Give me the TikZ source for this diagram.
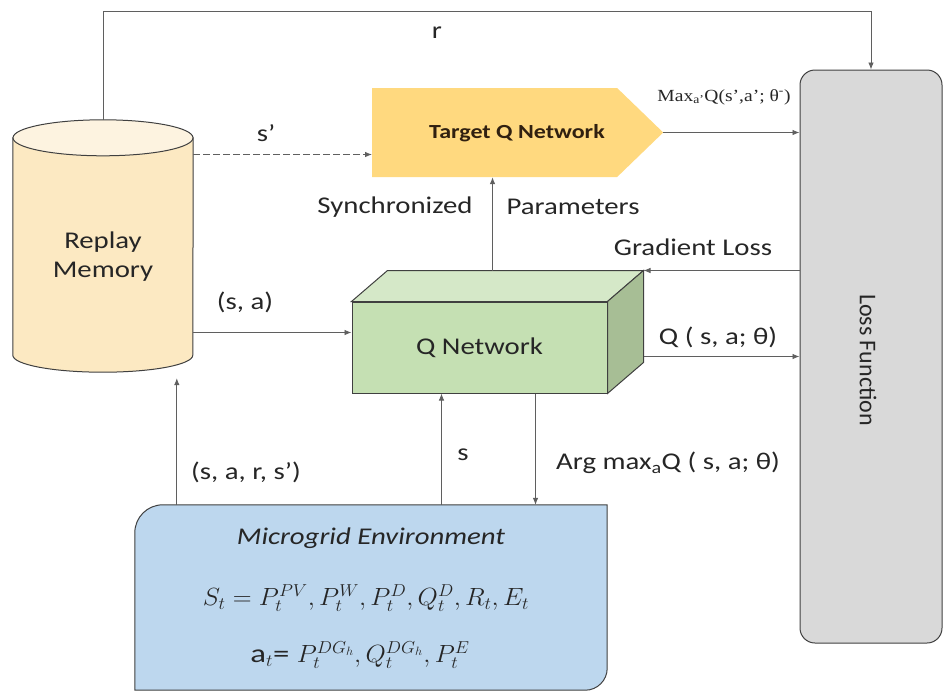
\documentclass[tikz,border=0pt]{standalone}
\usepackage{fontspec}
\usepackage{graphicx}
\setmainfont{Carlito}[FakeStretch=1.2]
\newfontfamily\lossfont{Carlito}
\newfontfamily\maxfont{Liberation Serif}[FakeStretch=1.15]
\usetikzlibrary{arrows.meta,calc,shapes.symbols}
\definecolor{MemClr}{HTML}{FCE9C2}
\definecolor{MemTopClr}{HTML}{FDF3E0}
\definecolor{TargetClr}{HTML}{FFD97F}
\definecolor{QFrontClr}{HTML}{C5E0B3}
\definecolor{QTopClr}{HTML}{D5E8C8}
\definecolor{QSideClr}{HTML}{A7BE95}
\definecolor{EnvClr}{HTML}{BDD7EE}
\definecolor{LossClr}{HTML}{D9D9D9}
\definecolor{EdgeClr}{HTML}{404040}
\definecolor{WireClr}{HTML}{5F5F5F}
\newcommand\basesize{\fontsize{24}{29}\selectfont}

\begin{document}
\begin{tikzpicture}[x=1pt,y=-1pt,
  font=\basesize, text=black!85,
  wire/.style={draw=WireClr,line width=.8pt,-{Latex[length=7pt,width=5.5pt]}},
  edge/.style={draw=EdgeClr,line width=1pt}]
\useasboundingbox (0,0) rectangle (943,691);

% boxes
\node[minimum width=180pt,minimum height=217pt,inner sep=0pt] (mem) at (103,246.5) {};
\filldraw[edge,fill=MemClr] (mem.north west) -- (mem.south west)
  arc[start angle=180,end angle=360,x radius=90pt,y radius=17pt] -- (mem.north east) -- cycle;
\filldraw[edge,fill=MemTopClr] (mem.north) ellipse[x radius=90pt,y radius=18pt];
\node[align=center] (memtxt) at (103,257) {Replay\\Memory};
\coordinate (memtop) at ($(mem.north)+(0,-18)$);
\coordinate (membot) at ($(mem.south)+(0,17)$);

\node[signal,signal to=east,signal pointer angle=88,minimum width=291pt,minimum height=89pt,
  fill=TargetClr,inner sep=0pt,anchor=west] (tq) at (372,132.5) {};
\node[font=\fontsize{20}{24}\selectfont\bfseries,text=black!75!brown] (tqtxt) at (517,133) {Target Q Network};

\node[edge,fill=QFrontClr,minimum width=255pt,minimum height=91pt,inner sep=0pt] (qn) at (479.5,347.5) {Q Network};
\coordinate (qtl) at ($(qn.north west)+(36,-31)$);
\coordinate (qtr) at ($(qn.north east)+(36,-31)$);
\coordinate (qbr) at ($(qn.south east)+(36,-31)$);
\filldraw[edge,fill=QTopClr] (qn.north west) -- (qtl) -- (qtr) -- (qn.north east) -- cycle;
\filldraw[edge,fill=QSideClr] (qn.north east) -- (qtr) -- (qbr) -- (qn.south east) -- cycle;

\node[edge,fill=LossClr,rounded corners=15pt,minimum width=142pt,minimum height=573pt] (loss) at (871,356.5) {};
\node[rotate=-90,font=\basesize\lossfont] (losstxt) at (868,360) {Loss Function};

\node[minimum width=472pt,minimum height=185pt,inner sep=0pt] (env) at (371,597.5) {};
\filldraw[edge,fill=EnvClr] (env.south west) [rounded corners=28pt] -- (env.north west) [sharp corners] -- (env.north east)
  [rounded corners=22pt] -- (env.south east) [sharp corners] -- cycle;
\node[font=\basesize\itshape] (envtitle) at (371,538) {Microgrid Environment};
\node[font=\fontsize{26}{31}\selectfont] (envstate) at (366,598) {\scalebox{1.05}[1]{$S_t = P_t^{PV}, P_t^{W}, P_t^{D}, Q_t^{D}, R_t, E_t$}};
\node[font=\fontsize{26}{31}\selectfont] (envact) at (360,655) {\scalebox{1.05}[1]{a$_t$= $P_t^{DG_h}, Q_t^{DG_h}, P_t^{E}$}};

% connectors
\coordinate (rtop) at (0,11);
\draw[wire] (memtop) -- (memtop |- rtop) -- (loss.north |- rtop) -- (loss.north);
\coordinate (sline) at ($(tq.west)+(0,22)$);
\draw[wire,dash pattern=on 7pt off 3pt] (mem.east |- sline) -- (sline);
\coordinate (saline) at ($(qn.west)+(0,-15)$);
\draw[wire] (mem.east |- saline) -- (saline);
\coordinate (envleft) at ($(env.north west)+(42,0)$);
\draw[wire,shorten >=6pt] (envleft) -- (envleft |- membot);
\coordinate (envs) at ($(qn.south west)+(90,0)$);
\draw[wire] (envs |- env.north) -- (envs);
\coordinate (qarg) at ($(qn.south west)+(184,0)$);
\draw[wire] (qarg) -- (qarg |- env.north);
\coordinate (qsync) at ($(qtl)+(105,0)$);
\draw[wire] (qsync) -- (qsync |- tq.south);
\draw[wire] (loss.west |- qtr) -- (qtr);
\draw[wire] (loss.west -| qtr) -- (loss.west);
\draw[wire] (tq.east) -- (tq.east -| loss.west);

% labels
\node (lr) at (437,33) {r};
\node (lsp) at (266,133) {s’};
\node (lsync) at (395,207) {Synchronized};
\node (lparam) at (573,207) {Parameters};
\node (lgrad) at (693,247) {Gradient Loss};
\node (lsa) at (245,302) {(s, a)};
\node (lq) at (718,337) {Q ( s, a; θ)};
\node (ls) at (463,455) {s};
\node (larg) at (668,463) {Arg max\textsubscript{a}Q ( s, a; θ)};
\node (lsars) at (246,472) {(s, a, r, s’)};
\node[font=\fontsize{17}{20}\selectfont\maxfont] (lmax) at (724,97) {Max\textsubscript{a’}Q(s’,a’; θ\textsuperscript{-})};

\end{tikzpicture}
\end{document}
